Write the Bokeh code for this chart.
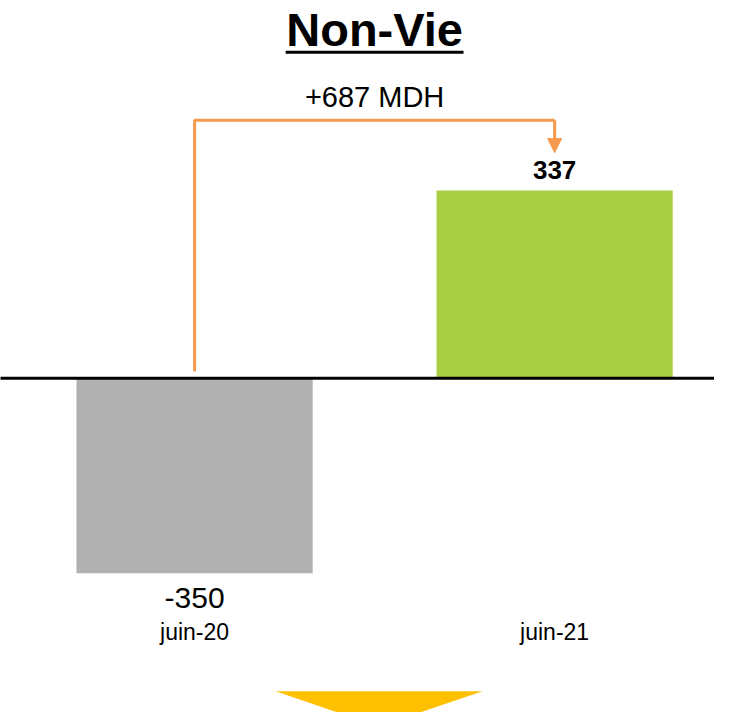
from bokeh.plotting import figure
from bokeh.models import Range1d, Arrow, NormalHead, ColumnDataSource
from bokeh.core.properties import value
from bokeh.embed import file_html
from bokeh.resources import INLINE

# ---- data ----
title = "Non-Vie"
categories = ["juin-20", "juin-21"]
values = [-350, 337]
value_labels = ["-350", "337"]
delta_label = "+687 MDH"
bar_colors = ["#B1B1B1", "#AACE42"]

ORANGE = "#F79A4E"
FONT = "Liberation Sans"

W, H = 714, 712
p = figure(width=W, height=H, output_backend="svg", toolbar_location=None,
           x_range=Range1d(-0.539, 1.444), y_range=Range1d(-600, 678),
           min_border=0, outline_line_color=None)
p.xaxis.visible = False
p.yaxis.visible = False
p.grid.visible = False
p.background_fill_color = "white"
p.border_fill_color = "white"

xs = list(range(len(categories)))
src = ColumnDataSource(dict(x=xs, top=values, bottom=[0] * len(values), color=bar_colors))
p.vbar(x="x", top="top", bottom="bottom", width=0.656, fill_color="color",
       line_color=None, source=src)

# zero line
p.line(x=[-0.55, 1.5], y=[0, 0], line_color="black", line_width=3)

# value labels
p.text(x=[xs[0]], y=[values[0] - 45], text=[value_labels[0]], text_align="center",
       text_baseline="middle", text_font=value(FONT), text_font_size="30px",
       text_color="black")
p.text(x=[xs[1]], y=[values[1] + 36], text=[value_labels[1]], text_align="center",
       text_baseline="middle", text_font=value(FONT), text_font_size="26px",
       text_font_style="bold", text_color="black")

# category labels
p.text(x=xs, y=[-456] * len(xs), text=categories, text_align="center",
       text_baseline="middle", text_font=value(FONT), text_font_size="23px",
       text_color="black")

# change arrow
top_y = 463
p.line(x=[xs[0], xs[0], xs[1]], y=[12, top_y, top_y], line_color=ORANGE, line_width=3)
p.add_layout(Arrow(x_start=xs[1], y_start=top_y, x_end=xs[1], y_end=values[1] + 68,
                   line_color=ORANGE, line_width=3,
                   end=NormalHead(size=14, fill_color=ORANGE, line_color=ORANGE)))
p.text(x=[(xs[0] + xs[1]) / 2], y=[504], text=[delta_label], text_align="center",
       text_baseline="middle", text_font=value(FONT), text_font_size="29px",
       text_color="black")

# title with underline
p.text(x=[(xs[0] + xs[1]) / 2], y=[626], text=[title], text_align="center",
       text_baseline="middle", text_font=value(FONT), text_font_size="47px",
       text_font_style="bold", text_color="black")
p.line(x=[0.253, 0.747], y=[585, 585], line_color="black", line_width=3)

# bottom triangle
p.patch(x=[0.225, 0.8, 0.511], y=[-562, -562, -625], fill_color="#FFC000",
        line_color=None)

open("out.html", "w").write(file_html(p, INLINE))
